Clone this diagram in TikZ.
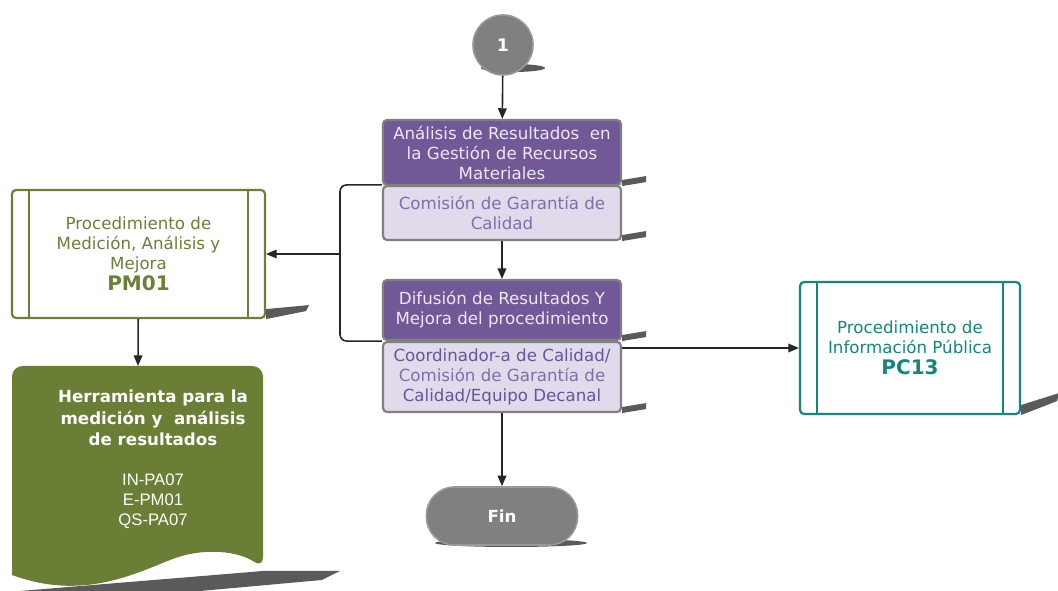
\documentclass[tikz,border=0pt]{standalone}
\usepackage{fontspec}
\setmainfont{DejaVu Sans}
\newfontfamily\codefont{Liberation Sans}
\usetikzlibrary{arrows.meta,calc}
\definecolor{headpurple}{RGB}{112,89,150}
\definecolor{headtext}{RGB}{236,232,244}
\definecolor{sublav}{RGB}{224,218,234}
\definecolor{subtext}{RGB}{128,110,170}
\definecolor{subdark}{RGB}{104,84,156}
\definecolor{boxgray}{RGB}{128,128,128}
\definecolor{pmgreen}{RGB}{106,128,56}
\definecolor{docgreen}{RGB}{106,126,54}
\definecolor{pcteal}{RGB}{20,134,124}
\definecolor{shadegray}{RGB}{90,90,90}
\tikzset{
  stepbox/.style={draw=boxgray, line width=1.6pt, rounded corners=3pt, minimum width=178.5pt, align=center, inner sep=2pt, font=\fontsize{12.5}{15}\selectfont},
  headbox/.style={stepbox, fill=headpurple, text=headtext},
  whobox/.style={stepbox, fill=sublav, text=subtext},
  procbox/.style={line width=1.6pt, rounded corners=3pt, fill=white, align=center, font=\fontsize{12.5}{15}\selectfont},
  arr/.style={-{Triangle[length=8pt,width=6.5pt]}, line width=1.2pt, draw=black!85},
  shade/.style={fill=shadegray}
}
\begin{document}
\begin{tikzpicture}[x=0.75pt,y=0.75pt,yscale=-1,xscale=1]
\useasboundingbox (0,0) rectangle (1058,591);
% shadows under the round shapes
\fill[shade] (513,68) ellipse [x radius=32, y radius=4];
\fill[shade] (511,543) ellipse [x radius=76, y radius=4];
\fill[shade] (20,591) -- (263,571) -- (340,571) -- (322,580) -- (200,591) -- cycle;
% start connector
\node[circle, minimum size=45pt, fill=boxgray, draw=black!40, line width=1.2pt, text=white, font=\bfseries\fontsize{13}{15}\selectfont] (one) at (503,45) {1};
% central column
\node[headbox, minimum height=48.75pt] (a1) at (502,152.5) {Análisis de Resultados \ en\\la Gestión de Recursos\\Materiales};
\node[whobox, minimum height=40.5pt] (a2) at (502,213) {Comisión de Garantía de\\Calidad};
\node[headbox, minimum height=45pt] (b1) at (502,310) {Difusión de Resultados Y\\Mejora del procedimiento};
\node[whobox, minimum height=52.5pt] (b2) at (502,377) {{\color{subdark}Coordinador-a de Calidad/}\\Comisión de Garantía de\\{\color{subdark}Calidad/Equipo Decanal}};
\node[draw=black!40, fill=boxgray, line width=1.2pt, rounded corners=21pt, minimum width=113.25pt, minimum height=43.5pt, text=white, font=\bfseries\fontsize{12.5}{15}\selectfont] (fin) at (502,516) {Fin};
% side procedures
\node[procbox, draw=pmgreen, text=pmgreen, minimum width=189.75pt, minimum height=96pt] (pm) at (138.5,254) {Procedimiento de\\Medición, Análisis y\\Mejora\\[1pt]{\bfseries\fontsize{15}{17}\selectfont PM01}};
\draw[pmgreen, line width=1.6pt] ($(pm.north west)+(18,0)$) -- ($(pm.south west)+(18,0)$);
\draw[pmgreen, line width=1.6pt] ($(pm.north east)+(-18,0)$) -- ($(pm.south east)+(-18,0)$);
\node[procbox, draw=pcteal, text=pcteal, minimum width=165pt, minimum height=99pt] (pc) at (910,348) {Procedimiento de\\Información Pública\\[1pt]{\bfseries\fontsize{15}{17}\selectfont PC13}};
\draw[pcteal, line width=1.6pt] ($(pc.north west)+(18,0)$) -- ($(pc.south west)+(18,0)$);
\draw[pcteal, line width=1.6pt] ($(pc.north east)+(-18,0)$) -- ($(pc.south east)+(-18,0)$);
% document shape
\fill[docgreen, rounded corners=8pt] (12,575) -- (12,366) -- (263,366) -- (263,568) [sharp corners] .. controls (240,552) and (205,546) .. (170,560) .. controls (130,576) and (80,600) .. (12,575) -- cycle;
\coordinate (doctop) at (138,366);
\node[text=white, align=center, font=\bfseries\fontsize{12.5}{16}\selectfont] (herr) at (153,418) {Herramienta para la\\medición y \ análisis\\de resultados};
\node[text=white, align=center, font=\codefont\fontsize{12.5}{15}\selectfont] (codes) at (153,501) {IN-PA07\\E-PM01\\QS-PA07};
% box shadows
\fill[shade] (a1.south east) -- ++(0,-6) -- ++(24,-4) -- ++(0,6) -- cycle;
\fill[shade] (a2.south east) -- ++(0,-6) -- ++(24,-4) -- ++(0,6) -- cycle;
\fill[shade] (b1.south east) -- ++(0,-6) -- ++(24,-4) -- ++(0,6) -- cycle;
\fill[shade] (b2.south east) -- ++(0,-6) -- ++(24,-4) -- ++(0,6) -- cycle;
\fill[shade] (pm.south east) -- ++(0,-10) -- ++(43,-4) -- ++(-3,6) -- cycle;
\fill[shade] (pc.south east) -- ++(0,-10) -- ++(38,-12) -- ++(-2,8) -- cycle;
% connectors
\coordinate (brk) at (340,254);
\draw[line width=1.2pt, draw=black!85, rounded corners=5pt] (a2.north west) -- (a2.north west -| brk) -- (b1.south west -| brk) -- (b1.south west);
\draw[arr] (one) -- (a1);
\draw[arr] (a2) -- (b1);
\draw[arr] (b2) -- (fin);
\draw[arr] (brk) -- (pm.east);
\draw[arr] (pm) -- (doctop);
\draw[arr] (b2.east |- pc.west) -- (pc.west);
\end{tikzpicture}
\end{document}
